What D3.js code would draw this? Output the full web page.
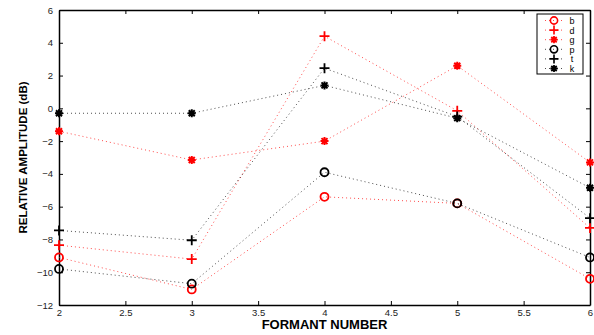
<!DOCTYPE html>
<html>
<head>
<meta charset="utf-8">
<script src="https://cdn.jsdelivr.net/npm/d3@7"></script>
<style>
body { margin: 0; background: #fff; }
text { font-family: "Liberation Sans", Arial, sans-serif; }
</style>
</head>
<body>
<script>
// formant numbers along x
const formants = [2, 3, 4, 5, 6];

// relative amplitude (dB) per consonant
const bVals = [-9.1, -11.05, -5.4, -5.8, -10.4];
const dVals = [-8.35, -9.2, 4.4, -0.15, -7.3];
const gVals = [-1.4, -3.15, -2.0, 2.6, -3.3];
const pVals = [-9.8, -10.7, -3.9, -5.8, -9.1];
const tVals = [-7.45, -8.05, 2.45, -0.5, -6.7];
const kVals = [-0.3, -0.3, 1.4, -0.6, -4.85];

const xTicks = [2, 2.5, 3, 3.5, 4, 4.5, 5, 5.5, 6];
const yTicks = [-12, -10, -8, -6, -4, -2, 0, 2, 4, 6];

const series = [
  {name: "b", vals: bVals, color: "#ff0000", marker: "circle"},
  {name: "d", vals: dVals, color: "#ff0000", marker: "plus"},
  {name: "g", vals: gVals, color: "#ff0000", marker: "star"},
  {name: "p", vals: pVals, color: "#000000", marker: "circle"},
  {name: "t", vals: tVals, color: "#000000", marker: "plus"},
  {name: "k", vals: kVals, color: "#000000", marker: "star"}
];

const width = 594, height = 335;
const margin = {left: 59, right: 4, top: 10, bottom: 30};

const svg = d3.select("body").append("svg")
  .attr("width", width).attr("height", height);

const x = d3.scaleLinear().domain([2, 6]).range([margin.left, width - margin.right]);
const y = d3.scaleLinear().domain([-12, 6]).range([height - margin.bottom, margin.top]);

// axes, ticks pointing inward like matlab
svg.append("g").attr("transform", "translate(0," + y(-12) + ")")
  .call(d3.axisBottom(x).tickValues(xTicks).tickSizeInner(-4).tickSizeOuter(0).tickPadding(4)
    .tickFormat(d3.format("")));
svg.append("g").attr("transform", "translate(0," + y(6) + ")")
  .call(d3.axisTop(x).tickValues(xTicks).tickSizeInner(-4).tickSizeOuter(0).tickFormat(""));
svg.append("g").attr("transform", "translate(" + x(2) + ",0)")
  .call(d3.axisLeft(y).tickValues(yTicks).tickSizeInner(-4).tickSizeOuter(0).tickPadding(6)
    .tickFormat(d => d < 0 ? "\u2212" + Math.abs(d) : d));
svg.append("g").attr("transform", "translate(" + x(6) + ",0)")
  .call(d3.axisRight(y).tickValues(yTicks).tickSizeInner(-4).tickSizeOuter(0).tickFormat(""));

svg.selectAll(".domain").attr("stroke", "#000").attr("stroke-width", 1.5);
svg.selectAll(".tick line").attr("stroke", "#000");
svg.selectAll(".tick text").attr("font-size", 9.5).attr("fill", "#222")
  .style("font-family", "'Liberation Sans', Arial, sans-serif");

// axis titles
svg.append("text").attr("x", (x(2) + x(6)) / 2).attr("y", 329)
  .attr("text-anchor", "middle").attr("font-size", 13).attr("font-weight", "bold")
  .text("FORMANT NUMBER");
svg.append("text")
  .attr("transform", "translate(27," + (y(-12) + y(6)) / 2 + ") rotate(-90)")
  .attr("text-anchor", "middle").attr("font-size", 11.5).attr("font-weight", "bold")
  .text("RELATIVE AMPLITUDE (dB)");

function drawMarker(g, type, color) {
  if (type === "circle") {
    g.append("circle").attr("r", 4).attr("fill", "none")
      .attr("stroke", color).attr("stroke-width", 1.8);
  } else if (type === "plus") {
    g.append("path").attr("d", "M-5,0H5M0,-5V5")
      .attr("stroke", color).attr("stroke-width", 1.8);
  } else {
    g.append("path").attr("d", "M-4,0H4M0,-4V4M-3,-3L3,3M-3,3L3,-3")
      .attr("stroke", color).attr("stroke-width", 2);
    g.append("circle").attr("r", 2.5).attr("fill", color);
  }
}

const line = d3.line().x((d, i) => x(formants[i])).y(d => y(d));

series.forEach(s => {
  svg.append("path").datum(s.vals)
    .attr("d", line).attr("fill", "none")
    .attr("stroke", s.color).attr("stroke-width", 1)
    .attr("stroke-dasharray", "1,3").attr("opacity", 0.7);
  svg.append("g").selectAll("g").data(s.vals).enter().append("g")
    .attr("transform", (d, i) => "translate(" + x(formants[i]) + "," + y(d) + ")")
    .each(function() { drawMarker(d3.select(this), s.marker, s.color); });
});

// legend
const leg = svg.append("g").attr("transform", "translate(537,14)");
leg.append("rect").attr("width", 46).attr("height", 60)
  .attr("fill", "#fff").attr("stroke", "#000").attr("stroke-width", 1);
series.forEach((s, i) => {
  const row = leg.append("g").attr("transform", "translate(0," + (6.5 + i * 9.6) + ")");
  row.append("line").attr("x1", 8).attr("x2", 26)
    .attr("stroke", s.color).attr("stroke-dasharray", "1,3").attr("opacity", 0.7);
  const m = row.append("g").attr("transform", "translate(17,0) scale(0.9)");
  drawMarker(m, s.marker, s.color);
  row.append("text").attr("x", 35).attr("y", 3.5).attr("text-anchor", "middle")
    .attr("font-size", 9).text(s.name);
});
</script>
</body>
</html>
